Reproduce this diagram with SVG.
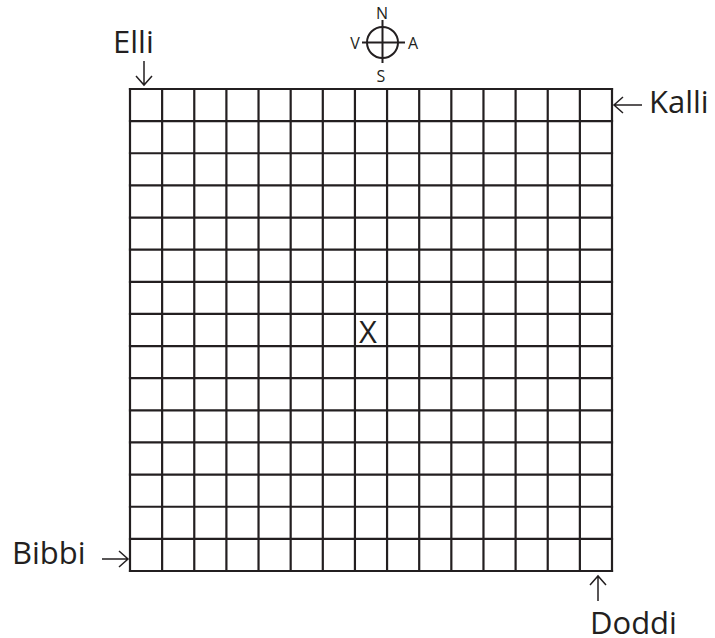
<svg xmlns="http://www.w3.org/2000/svg" width="715" height="638" viewBox="0 0 715 638">
<defs>
<style>
.grid{fill:none;stroke:#231f20;stroke-width:2.2;stroke-linecap:square}
.lbl{font-family:"Open Sans","Liberation Sans",sans-serif;font-size:31px;fill:#231f20}
.cmp{font-family:"Open Sans","Liberation Sans",sans-serif;font-size:16px;fill:#231f20}
.arr{fill:none;stroke:#231f20;stroke-width:1.5}
.cl{fill:none;stroke:#231f20;stroke-width:2}
</style>
</defs>
<rect width="715" height="638" fill="#ffffff"/>
<g id="grid">
<path class="grid" d="M130 89V571M162.13 89V571M194.27 89V571M226.4 89V571M258.53 89V571M290.67 89V571M322.8 89V571M354.93 89V571M387.07 89V571M419.2 89V571M451.33 89V571M483.47 89V571M515.6 89V571M547.73 89V571M579.87 89V571M612 89V571"/>
<path class="grid" d="M130 89H612M130 121.13H612M130 153.27H612M130 185.4H612M130 217.53H612M130 249.67H612M130 281.8H612M130 313.93H612M130 346.07H612M130 378.2H612M130 410.33H612M130 442.47H612M130 474.6H612M130 506.73H612M130 538.87H612M130 571H612"/>
<text class="lbl" x="368" y="343" text-anchor="middle" font-size="36">X</text>
</g>
<g id="compass">
<circle class="cl" cx="382.5" cy="42.5" r="15.5"/>
<path class="cl" d="M382.5 20V63M362 42.5H405"/>
<text class="cmp" x="382" y="18.5" text-anchor="middle">N</text>
<text class="cmp" x="355" y="49.3" text-anchor="middle">V</text>
<text class="cmp" x="413" y="49.3" text-anchor="middle">A</text>
<text class="cmp" x="381" y="81.7" text-anchor="middle">S</text>
</g>
<g id="connectors">
<path class="arr" d="M144 61V85M136 76L144 85L152 76"/>
<path class="arr" d="M642 105H614M623 97L614 105L623 113"/>
<path class="arr" d="M102 559H128M119 551L128 559L119 567"/>
<path class="arr" d="M598 601V576M590 585L598 576L606 585"/>
</g>
<g id="elli"><text class="lbl" x="113" y="53">Elli</text></g>
<g id="kalli"><text class="lbl" x="649" y="113">Kalli</text></g>
<g id="bibbi"><text class="lbl" x="12" y="564">Bibbi</text></g>
<g id="doddi"><text class="lbl" x="590" y="634">Doddi</text></g>
</svg>
